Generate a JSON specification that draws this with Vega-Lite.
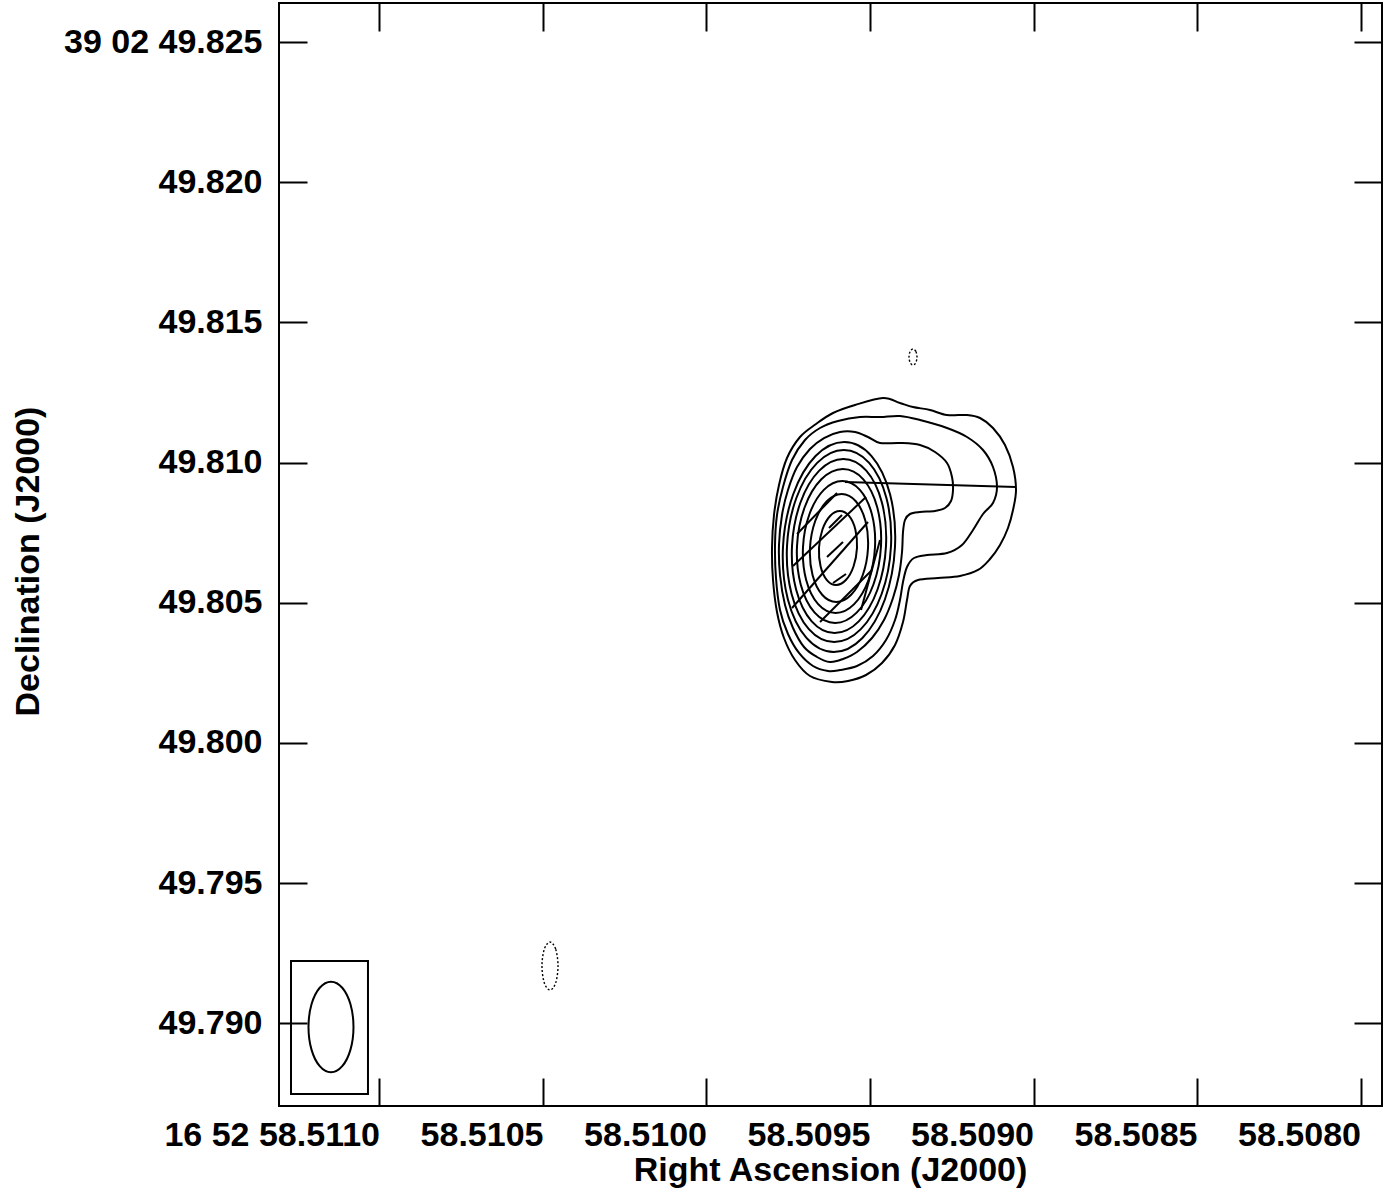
{
"$schema": "https://vega.github.io/schema/vega-lite/v6.json",
"width": 1103, "height": 1103,
"autosize": {"type": "none"},
"padding": {"left": 279, "top": 3, "right": 7, "bottom": 86},
"background": "white",
"config": {
  "font": "Liberation Sans",
  "view": {"stroke": "black", "strokeWidth": 2},
  "axis": {"grid": false, "domain": false, "tickColor": "black", "tickWidth": 2, "tickSize": -28,
           "labelFont": "Liberation Sans", "labelFontWeight": "bold", "labelFontSize": 34, "labelColor": "black", "labelLimit": 1000,
           "titleFont": "Liberation Sans", "titleFontWeight": "bold", "titleFontSize": 34, "titleColor": "black",
           "labelFlush": false, "labelOverlap": false}
},
"datasets": {
  "contours": [
    {"c":"C1","i":1,"ra":58.5094602,"dec":49.812304},{"c":"C1","i":2,"ra":58.5094083,"dec":49.812125},{"c":"C1","i":3,"ra":58.5093685,"dec":49.811983},{"c":"C1","i":4,"ra":58.5093165,"dec":49.811876},{"c":"C1","i":5,"ra":58.5092645,"dec":49.811697},{"c":"C1","i":6,"ra":58.5092034,"dec":49.811697},{"c":"C1","i":7,"ra":58.5091636,"dec":49.811590},{"c":"C1","i":8,"ra":58.5091239,"dec":49.811234},{"c":"C1","i":9,"ra":58.5090872,"dec":49.810628},{"c":"C1","i":10,"ra":58.5090627,"dec":49.809843},{"c":"C1","i":11,"ra":58.5090535,"dec":49.809023},{"c":"C1","i":12,"ra":58.5090627,"dec":49.808309},{"c":"C1","i":13,"ra":58.5090780,"dec":49.807668},{"c":"C1","i":14,"ra":58.5091024,"dec":49.807061},{"c":"C1","i":15,"ra":58.5091330,"dec":49.806562},{"c":"C1","i":16,"ra":58.5091697,"dec":49.806170},{"c":"C1","i":17,"ra":58.5092248,"dec":49.805956},{"c":"C1","i":18,"ra":58.5092920,"dec":49.805884},{"c":"C1","i":19,"ra":58.5093532,"dec":49.805813},{"c":"C1","i":20,"ra":58.5093777,"dec":49.805599},{"c":"C1","i":21,"ra":58.5093869,"dec":49.805100},{"c":"C1","i":22,"ra":58.5093991,"dec":49.804315},{"c":"C1","i":23,"ra":58.5094235,"dec":49.803495},{"c":"C1","i":24,"ra":58.5094633,"dec":49.802853},{"c":"C1","i":25,"ra":58.5095122,"dec":49.802425},{"c":"C1","i":26,"ra":58.5095673,"dec":49.802211},{"c":"C1","i":27,"ra":58.5096162,"dec":49.802175},{"c":"C1","i":28,"ra":58.5096835,"dec":49.802389},{"c":"C1","i":29,"ra":58.5097294,"dec":49.802960},{"c":"C1","i":30,"ra":58.5097630,"dec":49.803745},{"c":"C1","i":31,"ra":58.5097844,"dec":49.804672},{"c":"C1","i":32,"ra":58.5097966,"dec":49.805813},{"c":"C1","i":33,"ra":58.5097997,"dec":49.806954},{"c":"C1","i":34,"ra":58.5097936,"dec":49.808131},{"c":"C1","i":35,"ra":58.5097783,"dec":49.809201},{"c":"C1","i":36,"ra":58.5097538,"dec":49.810164},{"c":"C1","i":37,"ra":58.5097141,"dec":49.810913},{"c":"C1","i":38,"ra":58.5096651,"dec":49.811377},{"c":"C1","i":39,"ra":58.5096131,"dec":49.811769},{"c":"C1","i":40,"ra":58.5095459,"dec":49.812054},
    {"c":"C2","i":1,"ra":58.5094694,"dec":49.811626},{"c":"C2","i":2,"ra":58.5094083,"dec":49.811662},{"c":"C2","i":3,"ra":58.5093471,"dec":49.811519},{"c":"C2","i":4,"ra":58.5092645,"dec":49.811234},{"c":"C2","i":5,"ra":58.5092034,"dec":49.810913},{"c":"C2","i":6,"ra":58.5091544,"dec":49.810449},{"c":"C2","i":7,"ra":58.5091239,"dec":49.809843},{"c":"C2","i":8,"ra":58.5091116,"dec":49.809130},{"c":"C2","i":9,"ra":58.5091239,"dec":49.808559},{"c":"C2","i":10,"ra":58.5091544,"dec":49.808167},{"c":"C2","i":11,"ra":58.5091850,"dec":49.807596},{"c":"C2","i":12,"ra":58.5092187,"dec":49.807061},{"c":"C2","i":13,"ra":58.5092645,"dec":49.806776},{"c":"C2","i":14,"ra":58.5093257,"dec":49.806705},{"c":"C2","i":15,"ra":58.5093654,"dec":49.806598},{"c":"C2","i":16,"ra":58.5093869,"dec":49.806277},{"c":"C2","i":17,"ra":58.5093991,"dec":49.805742},{"c":"C2","i":18,"ra":58.5094083,"dec":49.805100},{"c":"C2","i":19,"ra":58.5094235,"dec":49.804387},{"c":"C2","i":20,"ra":58.5094511,"dec":49.803673},{"c":"C2","i":21,"ra":58.5094908,"dec":49.803103},{"c":"C2","i":22,"ra":58.5095398,"dec":49.802746},{"c":"C2","i":23,"ra":58.5095917,"dec":49.802603},{"c":"C2","i":24,"ra":58.5096284,"dec":49.802568},{"c":"C2","i":25,"ra":58.5096743,"dec":49.802746},{"c":"C2","i":26,"ra":58.5097171,"dec":49.803210},{"c":"C2","i":27,"ra":58.5097508,"dec":49.803887},{"c":"C2","i":28,"ra":58.5097752,"dec":49.804743},{"c":"C2","i":29,"ra":58.5097875,"dec":49.805884},{"c":"C2","i":30,"ra":58.5097905,"dec":49.807061},{"c":"C2","i":31,"ra":58.5097844,"dec":49.808131},{"c":"C2","i":32,"ra":58.5097661,"dec":49.809130},{"c":"C2","i":33,"ra":58.5097385,"dec":49.810093},{"c":"C2","i":34,"ra":58.5096988,"dec":49.810806},{"c":"C2","i":35,"ra":58.5096529,"dec":49.811234},{"c":"C2","i":36,"ra":58.5095979,"dec":49.811483},{"c":"C2","i":37,"ra":58.5095306,"dec":49.811626},
    {"c":"C3","i":1,"ra":58.5094694,"dec":49.810699},{"c":"C3","i":2,"ra":58.5094083,"dec":49.810699},{"c":"C3","i":3,"ra":58.5093471,"dec":49.810628},{"c":"C3","i":4,"ra":58.5093012,"dec":49.810378},{"c":"C3","i":5,"ra":58.5092645,"dec":49.809986},{"c":"C3","i":6,"ra":58.5092492,"dec":49.809486},{"c":"C3","i":7,"ra":58.5092462,"dec":49.809023},{"c":"C3","i":8,"ra":58.5092523,"dec":49.808630},{"c":"C3","i":9,"ra":58.5092706,"dec":49.808381},{"c":"C3","i":10,"ra":58.5093012,"dec":49.808274},{"c":"C3","i":11,"ra":58.5093471,"dec":49.808238},{"c":"C3","i":12,"ra":58.5093777,"dec":49.808167},{"c":"C3","i":13,"ra":58.5093930,"dec":49.807953},{"c":"C3","i":14,"ra":58.5093991,"dec":49.807525},{"c":"C3","i":15,"ra":58.5094021,"dec":49.806812},{"c":"C3","i":16,"ra":58.5094113,"dec":49.805991},{"c":"C3","i":17,"ra":58.5094297,"dec":49.805171},{"c":"C3","i":18,"ra":58.5094572,"dec":49.804387},{"c":"C3","i":19,"ra":58.5094939,"dec":49.803745},{"c":"C3","i":20,"ra":58.5095398,"dec":49.803245},{"c":"C3","i":21,"ra":58.5095826,"dec":49.802996},{"c":"C3","i":22,"ra":58.5096223,"dec":49.802889},{"c":"C3","i":23,"ra":58.5096621,"dec":49.803067},{"c":"C3","i":24,"ra":58.5097018,"dec":49.803424},{"c":"C3","i":25,"ra":58.5097355,"dec":49.804101},{"c":"C3","i":26,"ra":58.5097599,"dec":49.804921},{"c":"C3","i":27,"ra":58.5097752,"dec":49.805991},{"c":"C3","i":28,"ra":58.5097783,"dec":49.807061},{"c":"C3","i":29,"ra":58.5097691,"dec":49.808131},{"c":"C3","i":30,"ra":58.5097508,"dec":49.809023},{"c":"C3","i":31,"ra":58.5097232,"dec":49.809843},{"c":"C3","i":32,"ra":58.5096835,"dec":49.810485},{"c":"C3","i":33,"ra":58.5096407,"dec":49.810877},{"c":"C3","i":34,"ra":58.5095917,"dec":49.811091},{"c":"C3","i":35,"ra":58.5095459,"dec":49.811091},{"c":"C3","i":36,"ra":58.5095061,"dec":49.810913},
    {"c":"C4","i":0,"ra":58.5094236,"dec":49.806990},{"c":"C4","i":1,"ra":58.5094385,"dec":49.808862},{"c":"C4","i":2,"ra":58.5094953,"dec":49.810233},{"c":"C4","i":3,"ra":58.5095787,"dec":49.810734},{"c":"C4","i":4,"ra":58.5096665,"dec":49.810233},{"c":"C4","i":5,"ra":58.5097351,"dec":49.808862},{"c":"C4","i":6,"ra":58.5097661,"dec":49.806990},{"c":"C4","i":7,"ra":58.5097511,"dec":49.805118},{"c":"C4","i":8,"ra":58.5096943,"dec":49.803747},{"c":"C4","i":9,"ra":58.5096109,"dec":49.803246},{"c":"C4","i":10,"ra":58.5095231,"dec":49.803747},{"c":"C4","i":11,"ra":58.5094545,"dec":49.805118},
    {"c":"C5","i":0,"ra":58.5094358,"dec":49.807026},{"c":"C5","i":1,"ra":58.5094498,"dec":49.808738},{"c":"C5","i":2,"ra":58.5095026,"dec":49.809991},{"c":"C5","i":3,"ra":58.5095801,"dec":49.810450},{"c":"C5","i":4,"ra":58.5096616,"dec":49.809991},{"c":"C5","i":5,"ra":58.5097252,"dec":49.808738},{"c":"C5","i":6,"ra":58.5097538,"dec":49.807026},{"c":"C5","i":7,"ra":58.5097398,"dec":49.805314},{"c":"C5","i":8,"ra":58.5096870,"dec":49.804061},{"c":"C5","i":9,"ra":58.5096095,"dec":49.803602},{"c":"C5","i":10,"ra":58.5095280,"dec":49.804061},{"c":"C5","i":11,"ra":58.5094644,"dec":49.805314},
    {"c":"C6","i":0,"ra":58.5094511,"dec":49.807026},{"c":"C6","i":1,"ra":58.5094636,"dec":49.808577},{"c":"C6","i":2,"ra":58.5095114,"dec":49.809713},{"c":"C6","i":3,"ra":58.5095815,"dec":49.810129},{"c":"C6","i":4,"ra":58.5096552,"dec":49.809713},{"c":"C6","i":5,"ra":58.5097126,"dec":49.808577},{"c":"C6","i":6,"ra":58.5097385,"dec":49.807026},{"c":"C6","i":7,"ra":58.5097260,"dec":49.805475},{"c":"C6","i":8,"ra":58.5096782,"dec":49.804339},{"c":"C6","i":9,"ra":58.5096081,"dec":49.803923},{"c":"C6","i":10,"ra":58.5095344,"dec":49.804339},{"c":"C6","i":11,"ra":58.5094770,"dec":49.805475},
    {"c":"C7","i":0,"ra":58.5094664,"dec":49.807026},{"c":"C7","i":1,"ra":58.5094777,"dec":49.808399},{"c":"C7","i":2,"ra":58.5095204,"dec":49.809404},{"c":"C7","i":3,"ra":58.5095830,"dec":49.809772},{"c":"C7","i":4,"ra":58.5096488,"dec":49.809404},{"c":"C7","i":5,"ra":58.5097001,"dec":49.808399},{"c":"C7","i":6,"ra":58.5097232,"dec":49.807026},{"c":"C7","i":7,"ra":58.5097119,"dec":49.805653},{"c":"C7","i":8,"ra":58.5096692,"dec":49.804648},{"c":"C7","i":9,"ra":58.5096066,"dec":49.804280},{"c":"C7","i":10,"ra":58.5095408,"dec":49.804648},{"c":"C7","i":11,"ra":58.5094895,"dec":49.805653},
    {"c":"C8","i":0,"ra":58.5094847,"dec":49.806990},{"c":"C8","i":1,"ra":58.5094944,"dec":49.808167},{"c":"C8","i":2,"ra":58.5095310,"dec":49.809028},{"c":"C8","i":3,"ra":58.5095847,"dec":49.809344},{"c":"C8","i":4,"ra":58.5096412,"dec":49.809028},{"c":"C8","i":5,"ra":58.5096850,"dec":49.808167},{"c":"C8","i":6,"ra":58.5097049,"dec":49.806990},{"c":"C8","i":7,"ra":58.5096952,"dec":49.805813},{"c":"C8","i":8,"ra":58.5096586,"dec":49.804952},{"c":"C8","i":9,"ra":58.5096049,"dec":49.804636},{"c":"C8","i":10,"ra":58.5095484,"dec":49.804952},{"c":"C8","i":11,"ra":58.5095046,"dec":49.805813},
    {"c":"C9","i":0,"ra":58.5095061,"dec":49.806954},{"c":"C9","i":1,"ra":58.5095139,"dec":49.807917},{"c":"C9","i":2,"ra":58.5095434,"dec":49.808622},{"c":"C9","i":3,"ra":58.5095865,"dec":49.808880},{"c":"C9","i":4,"ra":58.5096320,"dec":49.808622},{"c":"C9","i":5,"ra":58.5096675,"dec":49.807917},{"c":"C9","i":6,"ra":58.5096835,"dec":49.806954},{"c":"C9","i":7,"ra":58.5096757,"dec":49.805991},{"c":"C9","i":8,"ra":58.5096463,"dec":49.805286},{"c":"C9","i":9,"ra":58.5096031,"dec":49.805028},{"c":"C9","i":10,"ra":58.5095577,"dec":49.805286},{"c":"C9","i":11,"ra":58.5095221,"dec":49.805991},
    {"c":"C10","i":0,"ra":58.5095398,"dec":49.806954},{"c":"C10","i":1,"ra":58.5095448,"dec":49.807614},{"c":"C10","i":2,"ra":58.5095640,"dec":49.808097},{"c":"C10","i":3,"ra":58.5095922,"dec":49.808274},{"c":"C10","i":4,"ra":58.5096221,"dec":49.808097},{"c":"C10","i":5,"ra":58.5096454,"dec":49.807614},{"c":"C10","i":6,"ra":58.5096560,"dec":49.806954},{"c":"C10","i":7,"ra":58.5096510,"dec":49.806294},{"c":"C10","i":8,"ra":58.5096319,"dec":49.805811},{"c":"C10","i":9,"ra":58.5096036,"dec":49.805634},{"c":"C10","i":10,"ra":58.5095738,"dec":49.805811},{"c":"C10","i":11,"ra":58.5095504,"dec":49.806294},
    {"c":"beam","i":0,"ra":58.5110795,"dec":49.789872},{"c":"beam","i":1,"ra":58.5110887,"dec":49.790680},{"c":"beam","i":2,"ra":58.5111139,"dec":49.791271},{"c":"beam","i":3,"ra":58.5111483,"dec":49.791488},{"c":"beam","i":4,"ra":58.5111827,"dec":49.791271},{"c":"beam","i":5,"ra":58.5112079,"dec":49.790680},{"c":"beam","i":6,"ra":58.5112171,"dec":49.789872},{"c":"beam","i":7,"ra":58.5112079,"dec":49.789064},{"c":"beam","i":8,"ra":58.5111827,"dec":49.788473},{"c":"beam","i":9,"ra":58.5111483,"dec":49.788256},{"c":"beam","i":10,"ra":58.5111139,"dec":49.788473},{"c":"beam","i":11,"ra":58.5110887,"dec":49.789064}
  ],
  "negative": [
    {"c":"n1","i":0,"ra":58.5093563,"dec":49.813766},{"c":"n1","i":1,"ra":58.5093599,"dec":49.813968},{"c":"n1","i":2,"ra":58.5093685,"dec":49.814051},{"c":"n1","i":3,"ra":58.5093771,"dec":49.813968},{"c":"n1","i":4,"ra":58.5093807,"dec":49.813766},{"c":"n1","i":5,"ra":58.5093771,"dec":49.813564},{"c":"n1","i":6,"ra":58.5093685,"dec":49.813481},{"c":"n1","i":7,"ra":58.5093599,"dec":49.813564},
    {"c":"n2","i":0,"ra":58.5104541,"dec":49.792047},{"c":"n2","i":1,"ra":58.5104613,"dec":49.792652},{"c":"n2","i":2,"ra":58.5104786,"dec":49.792903},{"c":"n2","i":3,"ra":58.5104959,"dec":49.792652},{"c":"n2","i":4,"ra":58.5105031,"dec":49.792047},{"c":"n2","i":5,"ra":58.5104959,"dec":49.791442},{"c":"n2","i":6,"ra":58.5104786,"dec":49.791191},{"c":"n2","i":7,"ra":58.5104613,"dec":49.791442}
  ],
  "vectors": [
    {"ra":58.5097232,"dec":49.807454,"ra2":58.5096009,"dec2":49.808916},
    {"ra":58.5097355,"dec":49.806312,"ra2":58.5095122,"dec2":49.808773},
    {"ra":58.5097385,"dec":49.804815,"ra2":58.5095061,"dec2":49.807882},
    {"ra":58.5096529,"dec":49.804315,"ra2":58.5094939,"dec2":49.806170},
    {"ra":58.5095275,"dec":49.804743,"ra2":58.5094694,"dec2":49.807240},
    {"ra":58.5096254,"dec":49.807668,"ra2":58.5095856,"dec2":49.808131},
    {"ra":58.5096315,"dec":49.806633,"ra2":58.5095826,"dec2":49.807168},
    {"ra":58.5096131,"dec":49.805706,"ra2":58.5095734,"dec2":49.806027},
    {"ra":58.5095765,"dec":49.809308,"ra2":58.5090535,"dec2":49.809130}
  ],
  "box": [
    {"ra":58.5112706,"dec":49.792225,"ra2":58.5110352,"dec2":49.787482}
  ]
},
"layer": [
  {
    "data": {"name": "contours"},
    "mark": {"type": "line", "interpolate": "cardinal-closed", "color": "black", "strokeWidth": 2},
    "encoding": {
      "x": {"field": "ra", "type": "quantitative",
            "scale": {"domain": [58.5079343, 58.5113073], "reverse": true, "zero": false, "nice": false},
            "axis": {"orient": "bottom", "values": [58.508, 58.5085, 58.509, 58.5095, 58.51, 58.5105, 58.511],
                     "labelExpr": "abs(datum.value - 58.511) < 1e-7 ? '16 52 58.5110' : format(datum.value, '.4f')",
                     "labelAlign": "right", "labelBaseline": "top", "labelPadding": 40, "labelDx": 6,
                     "title": "Right Ascension (J2000)", "titleX": 551, "titleY": 64, "titleBaseline": "middle", "titleAlign": "center"}},
      "y": {"field": "dec", "type": "quantitative",
            "scale": {"domain": [49.787054, 49.826391], "zero": false, "nice": false},
            "axis": {"orient": "left", "values": [49.79, 49.795, 49.8, 49.805, 49.81, 49.815, 49.82, 49.825],
                     "labelExpr": "abs(datum.value - 49.825) < 1e-7 ? '39 02 49.825' : format(datum.value, '.3f')",
                     "labelAlign": "right", "labelBaseline": "middle", "labelPadding": 45,
                     "title": "Declination (J2000)", "titleX": -251, "titleY": 558, "titleAngle": -90, "titleBaseline": "middle", "titleAlign": "center"}},
      "detail": {"field": "c", "type": "nominal"},
      "order": {"field": "i", "type": "quantitative"}
    }
  },
  {
    "data": {"name": "negative"},
    "mark": {"type": "line", "interpolate": "cardinal-closed", "color": "black", "strokeWidth": 1.4, "strokeDash": [2, 2]},
    "encoding": {
      "x": {"field": "ra", "type": "quantitative",
            "axis": {"orient": "top", "values": [58.508, 58.5085, 58.509, 58.5095, 58.51, 58.5105, 58.511], "labels": false, "title": null}},
      "y": {"field": "dec", "type": "quantitative",
            "axis": {"orient": "right", "values": [49.79, 49.795, 49.8, 49.805, 49.81, 49.815, 49.82, 49.825], "labels": false, "title": null}},
      "detail": {"field": "c", "type": "nominal"},
      "order": {"field": "i", "type": "quantitative"}
    }
  },
  {
    "data": {"name": "vectors"},
    "mark": {"type": "rule", "color": "black", "strokeWidth": 2},
    "encoding": {
      "x": {"field": "ra", "type": "quantitative", "axis": null},
      "y": {"field": "dec", "type": "quantitative", "axis": null},
      "x2": {"field": "ra2"},
      "y2": {"field": "dec2"}
    }
  },
  {
    "data": {"name": "box"},
    "mark": {"type": "rect", "filled": false, "stroke": "black", "strokeWidth": 2},
    "encoding": {
      "x": {"field": "ra", "type": "quantitative", "axis": null},
      "y": {"field": "dec", "type": "quantitative", "axis": null},
      "x2": {"field": "ra2"},
      "y2": {"field": "dec2"}
    }
  }
],
"resolve": {"axis": {"x": "independent", "y": "independent"}}
}
